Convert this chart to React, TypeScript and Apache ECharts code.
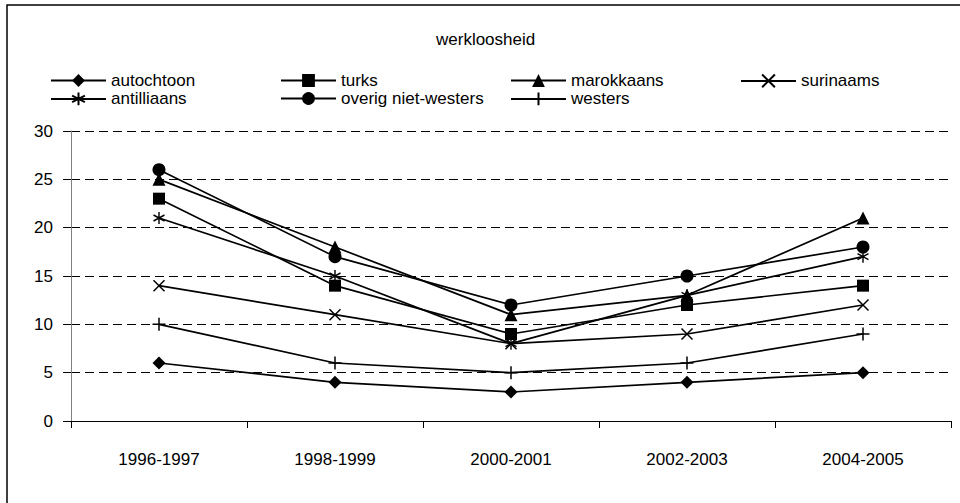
import React, { useEffect, useRef } from "react";
import * as echarts from "echarts";

const categories = ["1996-1997", "1998-1999", "2000-2001", "2002-2003", "2004-2005"];
const autochtoon = [6, 4, 3, 4, 5];
const turks = [23, 14, 9, 12, 14];
const marokkaans = [25, 18, 11, 13, 21];
const surinaams = [14, 11, 8, 9, 12];
const antilliaans = [21, 15, 8, 13, 17];
const overig = [26, 17, 12, 15, 18];
const westers = [10, 6, 5, 6, 9];
const yTicks = [0, 5, 10, 15, 20, 25, 30];

const CROSS = "path://M0 0L10 10M0 10L10 0";
const PLUS = "path://M5 0V10M0 5H10";
const STAR = "path://M5 0V10M0.67 2.5L9.33 7.5M0.67 7.5L9.33 2.5";

const FONT = "'Liberation Sans', Arial, sans-serif";
const FS = 17;

export default function App() {
  const ref = useRef<HTMLDivElement>(null);
  useEffect(() => {
    document.body.style.margin = "0";
    const chart = echarts.init(ref.current!, undefined, { renderer: "svg" });
    const strokeSym = { color: "none", borderColor: "#000", borderWidth: 1.5 };
    const mk = (name: string, data: number[], symbol: string, size: any, stroke = false) => ({
      name,
      type: "line",
      data,
      symbol,
      symbolSize: size,
      lineStyle: { color: "#000", width: 1.7 },
      itemStyle: stroke ? strokeSym : { color: "#000" },
      emphasis: { disabled: true },
    });
    const series = [
      mk("autochtoon", autochtoon, "diamond", 13),
      mk("turks", turks, "rect", 12),
      mk("marokkaans", marokkaans, "triangle", 13),
      mk("surinaams", surinaams, CROSS, 11, true),
      mk("antilliaans", antilliaans, STAR, [11, 12], true),
      mk("overig niet-westers", overig, "circle", 13),
      mk("westers", westers, PLUS, 13, true),
    ];
    const legendPos: [string, number, number][] = [
      ["autochtoon", 50, 72],
      ["turks", 280, 72],
      ["marokkaans", 510, 72],
      ["surinaams", 740, 72],
      ["antilliaans", 50, 90],
      ["overig niet-westers", 280, 90],
      ["westers", 510, 90],
    ];
    chart.setOption({
      animation: false,
      color: ["#000"],
      title: {
        text: "werkloosheid",
        left: 436,
        top: 31,
        padding: 0,
        textStyle: { fontFamily: FONT, fontSize: FS, fontWeight: "normal", color: "#000" },
      },
      legend: legendPos.map(([n, l, t]) => ({
        data: [n],
        left: l,
        top: t,
        padding: 0,
        itemWidth: 55,
        itemHeight: 16,
        itemGap: 0,
        selectedMode: false,
        textStyle: { fontFamily: FONT, fontSize: FS, color: "#000", padding: [0, 0, 0, 0] },
      })),
      graphic: [
        {
          type: "rect",
          shape: { x: 7, y: 5, width: 1000, height: 600 },
          style: { fill: "none", stroke: "#000", lineWidth: 1.5 },
          silent: true,
        },
      ],
      grid: { left: 71, top: 131, right: 9, bottom: 82, containLabel: false },
      xAxis: {
        type: "category",
        data: categories,
        boundaryGap: true,
        axisLine: { lineStyle: { color: "#000", width: 1 } },
        axisTick: { show: true, length: 7, alignWithLabel: false, lineStyle: { color: "#000" } },
        axisLabel: { fontFamily: FONT, fontSize: FS, color: "#000", margin: 30 },
        splitLine: { show: false },
      },
      yAxis: {
        type: "value",
        min: yTicks[0],
        max: yTicks[yTicks.length - 1],
        interval: 5,
        axisLine: { show: true, lineStyle: { color: "#808080", width: 1 } },
        axisTick: { show: true, length: 8, lineStyle: { color: "#000" } },
        axisLabel: { fontFamily: FONT, fontSize: FS, color: "#000", margin: 18 },
        splitLine: { show: true, lineStyle: { color: "#000", type: [9, 5], width: 1 } },
      },
      series,
    });
    return () => chart.dispose();
  }, []);
  return <div ref={ref} style={{ width: 960, height: 503 }} />;
}
